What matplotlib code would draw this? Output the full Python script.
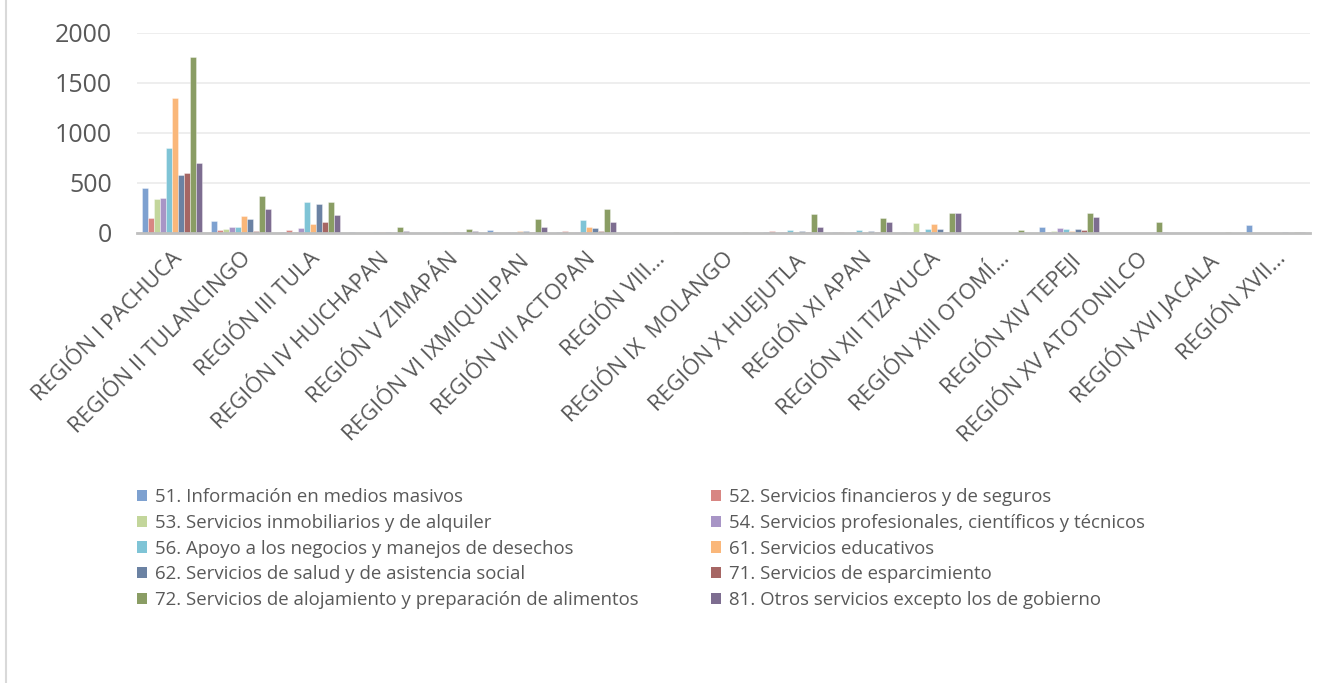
import matplotlib
matplotlib.use("Agg")
import matplotlib.pyplot as plt
import numpy as np
from matplotlib.transforms import ScaledTranslation
from matplotlib.patches import Patch
from matplotlib.lines import Line2D

plt.rcParams['font.family'] = ['Open Sans', 'DejaVu Sans']

regions = ["REGIÓN I PACHUCA", "REGIÓN II TULANCINGO", "REGIÓN III TULA",
           "REGIÓN IV HUICHAPAN", "REGIÓN V ZIMAPÁN", "REGIÓN VI IXMIQUILPAN",
           "REGIÓN VII ACTOPAN", "REGIÓN VIII…", "REGIÓN IX  MOLANGO",
           "REGIÓN X HUEJUTLA", "REGIÓN XI APAN", "REGIÓN XII TIZAYUCA",
           "REGIÓN XIII OTOMÍ…", "REGIÓN XIV TEPEJI", "REGIÓN XV ATOTONILCO",
           "REGIÓN XVI JACALA", "REGIÓN XVII…"]

series_names = ["51. Información en medios masivos",
                "52. Servicios financieros y de seguros",
                "53. Servicios inmobiliarios y de alquiler",
                "54. Servicios profesionales, científicos y técnicos",
                "56. Apoyo a los negocios y manejos de desechos",
                "61. Servicios educativos",
                "62. Servicios de salud y de asistencia social",
                "71. Servicios de esparcimiento",
                "72. Servicios de alojamiento y preparación de alimentos",
                "81. Otros servicios excepto los de gobierno"]

s51 = [450, 120, 10, 5, 3, 30, 5, 3, 3, 5, 5, 5, 2, 60, 3, 3, 80]
s52 = [150, 33, 25, 3, 2, 5, 17, 2, 2, 20, 12, 3, 2, 10, 2, 2, 3]
s53 = [340, 40, 8, 2, 2, 5, 5, 1, 1, 3, 3, 100, 1, 17, 2, 1, 2]
s54 = [345, 60, 50, 3, 3, 8, 10, 2, 2, 5, 8, 10, 2, 52, 2, 2, 3]
s56 = [850, 60, 310, 5, 8, 5, 130, 2, 3, 27, 27, 38, 2, 38, 3, 2, 3]
s61 = [1350, 165, 90, 8, 5, 17, 55, 2, 2, 10, 7, 90, 2, 17, 3, 2, 3]
s62 = [580, 140, 285, 7, 5, 17, 50, 3, 2, 17, 20, 41, 3, 41, 3, 2, 5]
s71 = [600, 15, 110, 3, 3, 14, 15, 1, 1, 5, 5, 8, 1, 27, 2, 1, 3]
s72 = [1760, 365, 305, 62, 35, 138, 235, 5, 5, 190, 152, 197, 27, 204, 107, 5, 8]
s81 = [695, 235, 175, 24, 17, 60, 110, 2, 2, 55, 107, 204, 3, 162, 7, 3, 7]

series_values = [s51, s52, s53, s54, s56, s61, s62, s71, s72, s81]
colors = ["#7EA1D0", "#D88683", "#C3D69B", "#A895C6", "#7FC4D6",
          "#FAB77A", "#6B82A3", "#A66664", "#8A9D64", "#7D6D90"]

fig = plt.figure(figsize=(13.35, 6.83), dpi=100)
ax = fig.add_axes([137/1335, 1-233/683, (1310-137)/1335, (233-33)/683])

n = len(series_values)
w = 1/(n + 1.5)
x = np.arange(len(regions))
for i, (vals, c) in enumerate(zip(series_values, colors)):
    ax.bar(x + (i - (n-1)/2)*w, vals, width=w, color=c,
           edgecolor=(1, 1, 1, 0.5), linewidth=0.5, zorder=3)

ax.set_xlim(-0.5, len(regions)-0.5)
ax.set_ylim(0, 2000)
ax.set_yticks([0, 500, 1000, 1500, 2000])
ax.yaxis.grid(True, color="#EBEBEB", linewidth=1.2, zorder=0)
for s in ["top", "right", "left"]:
    ax.spines[s].set_visible(False)
ax.spines["bottom"].set_color("#BFBFBF")
ax.spines["bottom"].set_linewidth(2)
ax.spines["bottom"].set_zorder(4)
ax.tick_params(axis="y", length=0, pad=18, labelsize=18, labelcolor="#595959")
ax.tick_params(axis="x", length=0, pad=11, labelsize=16, labelcolor="#595959")
ax.set_xticks(x)
ax.set_xticklabels(regions, rotation=45, ha="right", va="top", rotation_mode="anchor")
off = ScaledTranslation(0, 0, fig.dpi_scale_trans)
for lab in ax.get_xticklabels():
    lab.set_transform(lab.get_transform() + off)

# legend ordered row-wise: left column then right column
order = [0, 2, 4, 6, 8, 1, 3, 5, 7, 9]
handles = [Patch(facecolor=colors[k], edgecolor="none") for k in order]
labels = [series_names[k] for k in order]
leg = fig.legend(handles, labels, ncol=2, loc="upper left",
                 bbox_to_anchor=(137/1335, 1-488/683), frameon=False,
                 fontsize=13.4, labelcolor="#595959", handlelength=0.55,
                 handleheight=0.55, handletextpad=0.4, columnspacing=3.9,
                 labelspacing=0.42, borderpad=0, borderaxespad=0)

fig.add_artist(Line2D([6/1335, 6/1335], [0, 1], color="#D9D9D9", linewidth=1.5,
                      transform=fig.transFigure))

fig.savefig("out.png", dpi=100)
